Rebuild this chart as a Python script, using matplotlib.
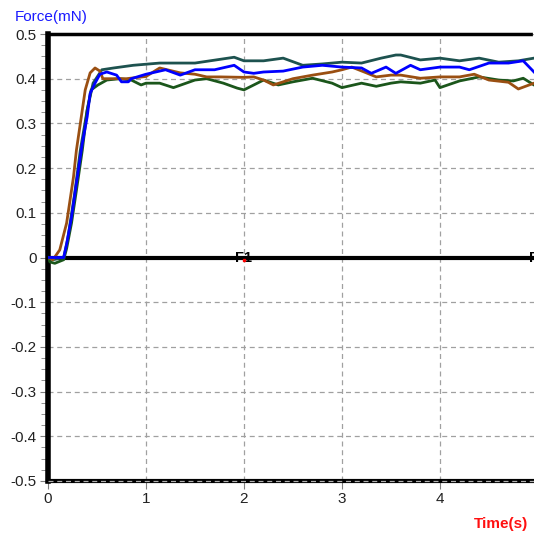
import matplotlib
matplotlib.use("Agg")
import matplotlib.pyplot as plt
import numpy as np
from matplotlib.ticker import MultipleLocator

plt.rcParams['font.family'] = ['Liberation Sans', 'DejaVu Sans']

# force curves (time in s, force in mN)
t_blue = [0, 0.02, 0.16, 0.19, 0.24, 0.29, 0.35, 0.40, 0.43, 0.48, 0.53, 0.60, 0.70, 0.75, 0.82,
          0.85, 1.0, 1.2, 1.35, 1.5, 1.7, 1.9, 2.0, 2.1, 2.2, 2.4, 2.6, 2.8, 3.0, 3.2, 3.3,
          3.45, 3.55, 3.7, 3.8, 4.0, 4.2, 4.3, 4.5, 4.7, 4.85, 4.96]
f_blue = [0, 0, 0, 0.03, 0.09, 0.166, 0.255, 0.315, 0.367, 0.39, 0.41, 0.415, 0.408, 0.393, 0.393,
          0.40, 0.41, 0.42, 0.408, 0.42, 0.42, 0.43, 0.415, 0.412, 0.415, 0.417, 0.426, 0.43, 0.426, 0.424, 0.412,
          0.426, 0.412, 0.43, 0.42, 0.426, 0.426, 0.42, 0.435, 0.435, 0.44, 0.415]

t_brown = [0, 0.05, 0.12, 0.19, 0.26, 0.29, 0.34, 0.38, 0.43, 0.48, 0.53, 0.56, 0.63, 0.8, 1.0,
           1.14, 1.35, 1.5, 1.62, 1.76, 2.0, 2.1, 2.2, 2.3, 2.5, 2.7, 2.9, 3.0, 3.1, 3.25, 3.35,
           3.5, 3.6, 3.8, 4.0, 4.2, 4.35, 4.5, 4.7, 4.8, 4.96]
f_brown = [0, -0.005, 0.017, 0.077, 0.18, 0.24, 0.315, 0.375, 0.413, 0.424, 0.417, 0.40, 0.40, 0.40, 0.405,
           0.424, 0.413, 0.41, 0.404, 0.404, 0.403, 0.404, 0.397, 0.386, 0.40, 0.408, 0.415, 0.42, 0.426, 0.413, 0.404,
           0.408, 0.408, 0.401, 0.404, 0.404, 0.41, 0.397, 0.392, 0.377, 0.39]

t_teal = [0, 0.05, 0.16, 0.2, 0.27, 0.33, 0.40, 0.46, 0.55, 0.67, 0.87, 1.14, 1.35, 1.5, 1.9,
          2.0, 2.2, 2.4, 2.6, 2.8, 3.0, 3.2, 3.4, 3.55, 3.6, 3.8, 4.0, 4.2, 4.4, 4.6, 4.8, 4.96]
f_teal = [0, -0.005, 0, 0.04, 0.14, 0.24, 0.33, 0.39, 0.42, 0.424, 0.43, 0.435, 0.435, 0.435, 0.448,
          0.44, 0.44, 0.446, 0.43, 0.433, 0.437, 0.435, 0.446, 0.453, 0.453, 0.442, 0.446, 0.44, 0.446, 0.437, 0.44, 0.446]

t_green = [0, 0.02, 0.07, 0.16, 0.19, 0.24, 0.29, 0.35, 0.40, 0.44, 0.51, 0.60, 0.73, 0.85, 0.95,
           1.0, 1.14, 1.28, 1.5, 1.62, 1.79, 1.93, 2.0, 2.1, 2.2, 2.35, 2.5, 2.7, 2.9, 3.0, 3.2,
           3.35, 3.5, 3.6, 3.8, 3.95, 4.0, 4.2, 4.4, 4.6, 4.75, 4.85, 4.96]
f_green = [0, -0.01, -0.013, -0.005, 0.02, 0.077, 0.15, 0.24, 0.33, 0.375, 0.386, 0.397, 0.40, 0.397, 0.386,
           0.39, 0.39, 0.38, 0.397, 0.40, 0.39, 0.379, 0.375, 0.386, 0.397, 0.386, 0.393, 0.401, 0.39, 0.38, 0.39,
           0.383, 0.39, 0.393, 0.39, 0.397, 0.38, 0.395, 0.404, 0.397, 0.395, 0.401, 0.386]

x_ticks = [0, 1, 2, 3, 4]
y_ticks = [-0.5, -0.4, -0.3, -0.2, -0.1, 0, 0.1, 0.2, 0.3, 0.4, 0.5]
y_labels = ['-0.5', '-0.4', '-0.3', '-0.2', '-0.1', '0', '0.1', '0.2', '0.3', '0.4', '0.5']
markers = [(2.0, 'F1'), (5.0, 'F2')]

fig = plt.figure(figsize=(5.34, 5.36), dpi=100)
ax = fig.add_axes([48 / 534, 55 / 536, 486 / 534, 447 / 536])

ax.set_xlim(0, 4.96)
ax.set_ylim(-0.5, 0.5)

ax.grid(True, color='#a0a0a0', linestyle=(0, (4, 3)), linewidth=0.9)
ax.set_axisbelow(True)

ax.axhline(0, color='black', linewidth=3, zorder=2)

ax.plot(t_teal, f_teal, color='#1d524f', linewidth=2, zorder=3)
ax.plot(t_green, f_green, color='#1b561b', linewidth=2, zorder=3)
ax.plot(t_brown, f_brown, color='#9a4f12', linewidth=2, zorder=4)
ax.plot(t_blue, f_blue, color='#0000ff', linewidth=2, zorder=5)

for xm, lab in markers:
    ax.text(xm, 0, lab, ha='center', va='center', fontsize=10.5, fontweight='bold',
            color='black', zorder=6)
    ax.plot([xm], [-0.006], marker='s', markersize=2, color='red', zorder=7, clip_on=False)

ax.set_xticks(x_ticks)
ax.set_yticks(y_ticks)
ax.set_yticklabels(y_labels)
ax.yaxis.set_minor_locator(MultipleLocator(0.025))
ax.tick_params(axis='both', which='major', direction='out', length=6, color='#808080',
               labelsize=11, labelcolor='#222222', pad=2)
ax.tick_params(axis='y', which='minor', direction='out', length=5, color='#808080')

ax.spines['left'].set_linewidth(4)
ax.spines['left'].set_color('black')
ax.spines['bottom'].set_linewidth(3)
ax.spines['bottom'].set_color('black')
ax.spines['top'].set_linewidth(2.5)
ax.spines['top'].set_linestyle((0, (1.5, 1)))
ax.spines['right'].set_visible(False)

# bottom gridline shown on top of the spine
ax.axhline(-0.5, color='#b0b0b0', linestyle=(0, (4, 3)), linewidth=0.9, zorder=10, clip_on=False)

fig.text(15 / 534, 1 - 17 / 536, 'Force(mN)', color='#1a1aff', fontsize=11, va='center', ha='left')
fig.text(528 / 534, 1 - 524 / 536, 'Time(s)', color='#ff1010', fontsize=11, fontweight='bold',
         va='center', ha='right')

fig.savefig('out.png', dpi=100)
